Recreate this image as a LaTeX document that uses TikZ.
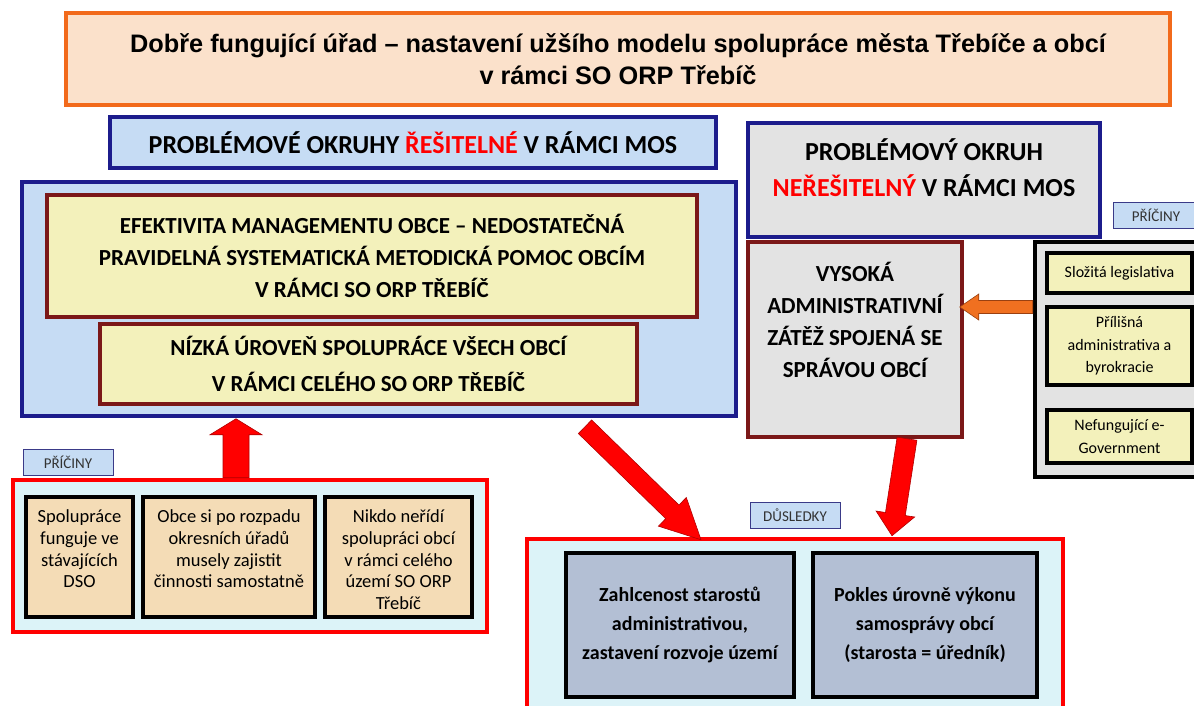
\documentclass[tikz,border=0pt]{standalone}
\usepackage{fontspec}
\setmainfont{Carlito}
\newfontfamily\arialfont{Liberation Sans}
\usetikzlibrary{calc}
\definecolor{orangeT}{HTML}{F26A1B}
\definecolor{peach}{HTML}{FBE1CB}
\definecolor{navy}{HTML}{1C1C8C}
\definecolor{lblue}{HTML}{C6DCF4}
\definecolor{yfill}{HTML}{F3F1BB}
\definecolor{dred}{HTML}{7B1818}
\definecolor{gfill}{HTML}{E3E3E3}
\definecolor{tan}{HTML}{F4DCB6}
\definecolor{cfill}{HTML}{DCF3F8}
\definecolor{slate}{HTML}{B3BFD4}
\definecolor{rred}{HTML}{FF0000}
\definecolor{rdark}{HTML}{B00000}
\definecolor{oarrow}{HTML}{F07020}
\definecolor{oedge}{HTML}{9A4010}
\newcommand\blockarrow[6]{%
  \coordinate (ba-h) at ($(#3)!#6!(#2)$);
  \draw[#1] ($(#2)!#4!90:(#3)$) -- ($(ba-h)!#4!90:(#3)$) -- ($(ba-h)!#5!90:(#3)$) -- (#3) -- ($(ba-h)!#5!-90:(#3)$) -- ($(ba-h)!#4!-90:(#3)$) -- ($(#2)!#4!-90:(#3)$) -- cycle;}
\tikzset{
  box/.style={draw, inner sep=0pt, align=center},
  titlebox/.style={box, draw=orangeT, fill=peach, line width=3.5pt},
  headbox/.style={box, draw=navy, line width=3.5pt},
  ybox/.style={box, draw=dred, fill=yfill, line width=3.5pt},
  blackbox/.style={box, draw=black, line width=4.5pt},
  redbox/.style={box, draw=rred, fill=cfill, line width=4.5pt},
  tag/.style={box, draw=navy!70!gray, fill=lblue, line width=0.8pt, font=\fontsize{15}{18}\selectfont, text=black!80},
  txt/.style={inner sep=0pt, align=center},
  redarrow/.style={fill=rred, draw=rdark, line width=0.6pt},
  orarrow/.style={fill=oarrow, draw=oedge, line width=0.6pt},
}
\begin{document}
\begin{tikzpicture}[x=1pt,y=-1pt]
\clip (0,0) rectangle (1194,706);
\fill[white] (0,0) rectangle (1194,706);

% title
\node[titlebox, minimum width=1104pt, minimum height=92pt, font=\arialfont\bfseries\fontsize{25.3}{32}\selectfont] (title) at (618,59)
  {Dobře fungující úřad – nastavení užšího modelu spolupráce města Třebíče a obcí\\v rámci SO ORP Třebíč};

% left part
\node[headbox, fill=lblue, minimum width=606pt, minimum height=51pt, font=\bfseries\fontsize{26}{31}\selectfont] (lhead) at (413,142.5)
  {PROBLÉMOVÉ OKRUHY \textcolor{red}{ŘEŠITELNÉ} V RÁMCI MOS};
\node[headbox, fill=lblue, minimum width=714pt, minimum height=234pt] (bigbox) at (379,299) {};
\node[ybox, minimum width=650pt, minimum height=122pt, font=\bfseries\fontsize{23}{32}\selectfont] (eff) at (372,256)
  {EFEKTIVITA MANAGEMENTU OBCE – NEDOSTATEČNÁ\\PRAVIDELNÁ SYSTEMATICKÁ METODICKÁ POMOC OBCÍM\\V RÁMCI SO ORP TŘEBÍČ};
\node[ybox, minimum width=537pt, minimum height=80pt, font=\bfseries\fontsize{23}{36}\selectfont] (low) at (368.5,364)
  {NÍZKÁ ÚROVEŇ SPOLUPRÁCE VŠECH OBCÍ\\V RÁMCI CELÉHO SO ORP TŘEBÍČ};

% left causes
\node[tag, minimum width=90pt, minimum height=26pt] (tagL) at (68,462) {PŘÍČINY};
\node[redbox, minimum width=474pt, minimum height=152pt] (causeL) at (250,556) {};
\node[blackbox, fill=tan, minimum width=107pt, minimum height=120pt] (c1) at (79.5,557) {};
\node[blackbox, fill=tan, minimum width=172pt, minimum height=120pt] (c2) at (229,557) {};
\node[blackbox, fill=tan, minimum width=147pt, minimum height=120pt] (c3) at (398.5,557) {};
\node[txt, anchor=north, font=\fontsize{18.5}{21.7}\selectfont] (c1t) at ($(c1.north)+(0,15)$) {Spolupráce\\funguje ve\\stávajících\\DSO};
\node[txt, anchor=north, font=\fontsize{18.5}{21.7}\selectfont] (c2t) at ($(c2.north)+(0,15)$) {Obce si po rozpadu\\okresních úřadů\\musely zajistit\\činnosti samostatně};
\node[txt, anchor=north, font=\fontsize{18.5}{21.7}\selectfont] (c3t) at ($(c3.north)+(0,15)$) {Nikdo neřídí\\spolupráci obcí\\v rámci celého\\území SO ORP\\Třebíč};

% right part
\node[headbox, fill=gfill, minimum width=352pt, minimum height=114pt] (rhead) at (924,180) {};
\node[txt, font=\bfseries\fontsize{26}{36}\selectfont] (rheadt) at ($(rhead.center)+(0,-12)$) {PROBLÉMOVÝ OKRUH\\\textcolor{red}{NEŘEŠITELNÝ} V RÁMCI MOS};
\node[tag, minimum width=86pt, minimum height=26pt] (tagR) at (1156,215) {PŘÍČINY};
\node[box, draw=dred, fill=gfill, line width=3.5pt, minimum width=214pt, minimum height=195pt] (vys) at (855,339.5) {};
\node[txt, font=\bfseries\fontsize{23}{32}\selectfont] (vyst) at ($(vys.center)+(0,-20)$) {VYSOKÁ\\ADMINISTRATIVNÍ\\ZÁTĚŽ SPOJENÁ SE\\SPRÁVOU OBCÍ};
\node[blackbox, fill=gfill, minimum width=165pt, minimum height=235pt] (rcause) at (1117.5,359.5) {};
\node[blackbox, fill=yfill, minimum width=145pt, minimum height=40pt, font=\fontsize{16}{22.5}\selectfont] (r1) at (1119.5,273) {Složitá legislativa};
\node[blackbox, fill=yfill, minimum width=145pt, minimum height=78pt, font=\fontsize{16}{22.5}\selectfont] (r2) at (1119.5,346) {Přílišná\\administrativa a\\byrokracie};
\node[blackbox, fill=yfill, minimum width=145pt, minimum height=53pt, font=\fontsize{16}{22.5}\selectfont] (r3) at (1119.5,436.5) {Nefungující e-\\Government};

% consequences
\node[tag, minimum width=90pt, minimum height=26pt] (tagD) at (795,515) {DŮSLEDKY};
\node[redbox, minimum width=536pt, minimum height=172pt] (cons) at (795,625) {};
\node[blackbox, fill=slate, minimum width=228pt, minimum height=144pt, font=\bfseries\fontsize{20}{29}\selectfont] (d1) at (680,625) {Zahlcenost starostů\\administrativou,\\zastavení rozvoje území};
\node[blackbox, fill=slate, minimum width=224pt, minimum height=144pt, font=\bfseries\fontsize{20}{29}\selectfont] (d2) at (925,625) {Pokles úrovně výkonu\\samosprávy obcí\\(starosta = úředník)};

% arrows
\coordinate (a1s) at ([xshift=-14pt]causeL.north);
\coordinate (a1e) at ([xshift=-143pt,yshift=-1pt]bigbox.south);
\blockarrow{redarrow}{a1s}{a1e}{13pt}{26pt}{16pt}
\coordinate (a2s) at ([xshift=206pt,yshift=-9pt]bigbox.south);
\coordinate (a2e) at ([xshift=-94pt,yshift=-3pt]cons.north);
\blockarrow{redarrow}{a2s}{a2e}{9.5pt}{20pt}{40pt}
\coordinate (a3s) at ([xshift=52pt]vys.south);
\coordinate (a3e) at ([xshift=97pt,yshift=1pt]cons.north);
\blockarrow{redarrow}{a3s}{a3e}{10pt}{19.5pt}{22pt}
\coordinate (a4s) at ([yshift=52.5pt]rcause.west);
\coordinate (a4e) at ([xshift=-4pt,yshift=32.5pt]vys.east);
\blockarrow{orarrow}{a4s}{a4e}{6.5pt}{13pt}{19pt}
\end{tikzpicture}
\end{document}
